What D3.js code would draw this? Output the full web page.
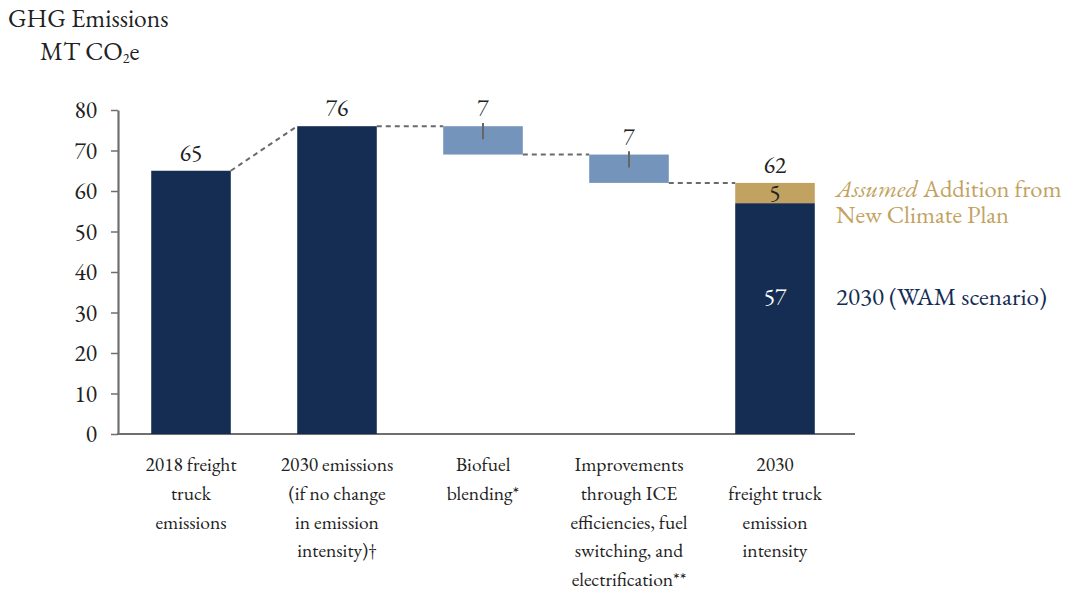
<!DOCTYPE html>
<html>
<head>
<meta charset="utf-8">
<script src="https://cdn.jsdelivr.net/npm/d3@7"></script>
<style>
  html, body { margin: 0; padding: 0; background: #fff; }
  svg { display: block; }
</style>
</head>
<body>
<svg id="chart" width="1065" height="592"></svg>
<script>
// Waterfall of freight-truck GHG emissions (MT CO2e)
const categories = ["2018 freight truck emissions", "2030 emissions (if no change in emission intensity)†", "Biofuel blending*", "Improvements through ICE efficiencies, fuel switching, and electrification**", "2030 freight truck emission intensity"];
const categoryLines = [
  ["2018 freight", "truck", "emissions"],
  ["2030 emissions", "(if no change", "in emission", "intensity)†"],
  ["Biofuel", "blending*"],
  ["Improvements", "through ICE", "efficiencies, fuel", "switching, and", "electrification**"],
  ["2030", "freight truck", "emission", "intensity"]
];
const barKinds = ["total", "total", "decrease", "decrease", "stack"];
const barValues = [65, 76, 7, 7, 62];
const wamValue = 57;
const climatePlanValue = 5;
const yTicks = [0, 10, 20, 30, 40, 50, 60, 70, 80];

const navy = "#152d53", blue = "#7594bb", gold = "#c2a260", axisGray = "#6f6f6f";
const serif = "'EB Garamond', Garamond, 'Liberation Serif', serif";

const svg = d3.select("#chart");

const x = d3.scaleBand().domain(categories).range([118, 848]).paddingInner(0.455).paddingOuter(0.2275);
const y = d3.scaleLinear().domain([0, 80]).range([434, 110]);

// compute floating ranges for each waterfall step
let running = 0;
const segs = barKinds.map((k, i) => {
  let lo, hi;
  if (k === "total" || k === "stack") { lo = 0; hi = barValues[i]; running = hi; }
  else { hi = running; lo = running - barValues[i]; running = lo; }
  return { cat: categories[i], kind: k, lo, hi, v: barValues[i] };
});

// y axis
const yAxis = d3.axisLeft(y).tickValues(yTicks).tickSize(7).tickPadding(14).tickSizeOuter(0);
const gy = svg.append("g").attr("transform", "translate(118,0)").call(yAxis);
gy.select(".domain").attr("stroke", axisGray).attr("stroke-width", 2.2);
gy.selectAll(".tick line").attr("stroke", axisGray).attr("stroke-width", 1.5);
gy.selectAll(".tick text").attr("font-size", 23.5).attr("fill", "#222");

// x axis baseline
svg.append("line").attr("x1", 117).attr("x2", 855).attr("y1", y(0)).attr("y2", y(0))
  .attr("stroke", axisGray).attr("stroke-width", 2.2);

// connectors
const conn = svg.append("g").attr("stroke", "#6a6a6a").attr("stroke-width", 2).attr("stroke-dasharray", "5,4").attr("fill", "none");
const conPts = [];
for (let i = 0; i < segs.length - 1; i++) {
  const s = segs[i], n = segs[i + 1];
  const fromY = s.kind === "decrease" ? s.lo : s.hi;
  const toY = n.hi;
  conPts.push([x(s.cat) + x.bandwidth(), y(fromY), x(n.cat), y(toY)]);
}
conn.selectAll("line").data(conPts).join("line")
  .attr("x1", d => d[0]).attr("y1", d => d[1]).attr("x2", d => d[2]).attr("y2", d => d[3]);

// bars
segs.forEach(s => {
  const bx = x(s.cat), bw = x.bandwidth();
  if (s.kind === "stack") {
    svg.append("rect").attr("x", bx).attr("width", bw).attr("y", y(wamValue)).attr("height", y(0) - y(wamValue)).attr("fill", navy);
    svg.append("rect").attr("x", bx).attr("width", bw).attr("y", y(wamValue + climatePlanValue)).attr("height", y(wamValue) - y(wamValue + climatePlanValue)).attr("fill", gold);
  } else {
    svg.append("rect").attr("x", bx).attr("width", bw).attr("y", y(s.hi)).attr("height", y(s.lo) - y(s.hi))
      .attr("fill", s.kind === "total" ? navy : blue);
  }
  if (s.kind === "decrease") {
    svg.append("line").attr("x1", bx + bw / 2).attr("x2", bx + bw / 2)
      .attr("y1", y(s.hi + 0.8)).attr("y2", y(s.hi - 3.2))
      .attr("stroke", "#666").attr("stroke-width", 2);
  }
});

// value labels
const lbl = svg.append("g").attr("font-size", 23.5).attr("text-anchor", "middle").attr("fill", "#222");
segs.forEach(s => {
  lbl.append("text").attr("x", x(s.cat) + x.bandwidth() / 2).attr("y", y(s.hi) - 10).text(s.v);
});
const lastCat = categories[4];
lbl.append("text").attr("x", x(lastCat) + x.bandwidth() / 2).attr("y", y(wamValue + climatePlanValue / 2) + 8).text(climatePlanValue);
lbl.append("text").attr("x", x(lastCat) + x.bandwidth() / 2).attr("y", 305).attr("fill", "#fff").text(wamValue);

// category labels
const xl = svg.append("g").attr("font-size", 19.5).attr("text-anchor", "middle").attr("fill", "#222");
categoryLines.forEach((lines, i) => {
  const cx = x(categories[i]) + x.bandwidth() / 2;
  const t = xl.append("text").attr("x", cx).attr("y", 471);
  lines.forEach((ln, j) => t.append("tspan").attr("x", cx).attr("dy", j === 0 ? 0 : 28.8).text(ln));
});

// annotations for the stacked bar
const ann1 = svg.append("text").attr("x", 836).attr("y", 197).attr("font-size", 24.5).attr("fill", gold);
ann1.append("tspan").attr("font-style", "italic").text("Assumed");
ann1.append("tspan").text(" Addition from");
svg.append("text").attr("x", 836).attr("y", 223).attr("font-size", 24.5).attr("fill", gold).text("New Climate Plan");
svg.append("text").attr("x", 836).attr("y", 305).attr("font-size", 25).attr("fill", navy).text("2030 (WAM scenario)");

// axis title
svg.append("text").attr("x", 8).attr("y", 27).attr("font-size", 25.5).attr("fill", "#222").text("GHG Emissions");
const t2 = svg.append("text").attr("x", 40).attr("y", 60).attr("font-size", 25.5).attr("fill", "#222");
t2.append("tspan").text("MT CO");
t2.append("tspan").attr("font-size", 14).attr("dy", 3).text("2");
t2.append("tspan").attr("dy", -3).text("e");

// one typeface for every piece of text
svg.selectAll("text").attr("font-family", serif);
svg.selectAll("g").attr("font-family", serif);
</script>
</body>
</html>
